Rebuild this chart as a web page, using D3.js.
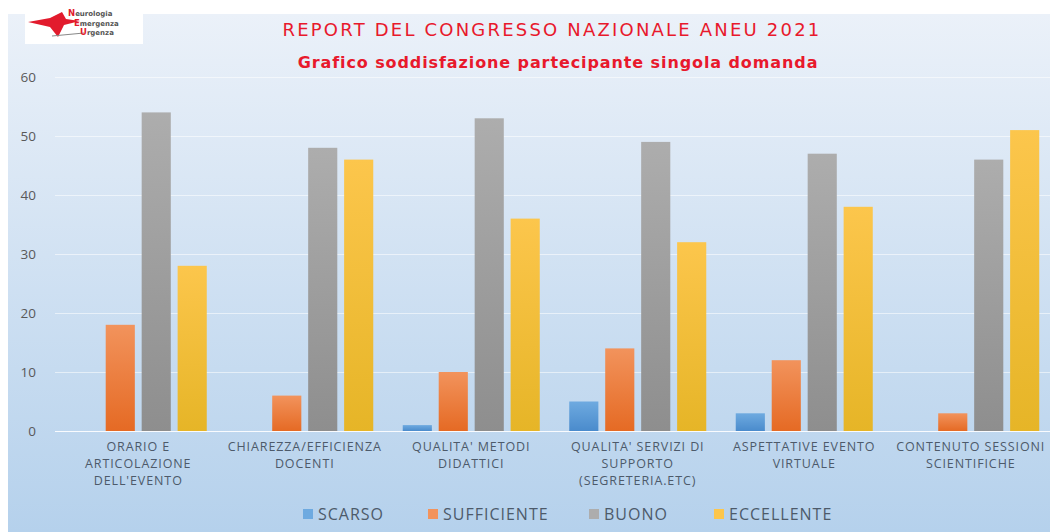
<!DOCTYPE html>
<html>
<head>
<meta charset="utf-8">
<script src="https://cdn.jsdelivr.net/npm/d3@7"></script>
<style>
  body { margin: 0; background: #fff; }
  svg { display: block; }
  text { font-family: 'Open Sans', sans-serif; }
</style>
</head>
<body>
<svg id="area" width="1050" height="532"></svg>
<script>
const categories = [
  ['ORARIO E', 'ARTICOLAZIONE', "DELL'EVENTO"],
  ['CHIAREZZA/EFFICIENZA', 'DOCENTI'],
  ["QUALITA' METODI", 'DIDATTICI'],
  ["QUALITA' SERVIZI DI", 'SUPPORTO', '(SEGRETERIA.ETC)'],
  ['ASPETTATIVE EVENTO', 'VIRTUALE'],
  ['CONTENUTO SESSIONI', 'SCIENTIFICHE'],
];
const seriesNames = ['SCARSO', 'SUFFICIENTE', 'BUONO', 'ECCELLENTE'];
const scarso = [0, 0, 1, 5, 3, 0];
const sufficiente = [18, 6, 10, 14, 12, 3];
const buono = [54, 48, 53, 49, 47, 46];
const eccellente = [28, 46, 36, 32, 38, 51];
const yTicks = [0, 10, 20, 30, 40, 50, 60];

const values = [scarso, sufficiente, buono, eccellente];
const colors = [
  ['#6eaae0', '#4a8bcc'],
  ['#f2935c', '#e56a24'],
  ['#adadad', '#8e8e8e'],
  ['#fcc64c', '#e6b527'],
];

const svg = d3.select('#area');
const defs = svg.append('defs');

const bg = defs.append('linearGradient')
  .attr('id', 'bg').attr('x1', 0).attr('y1', 0).attr('x2', 0).attr('y2', 1);
bg.append('stop').attr('offset', 0).attr('stop-color', '#ebf1f9');
bg.append('stop').attr('offset', 1).attr('stop-color', '#b5d1ec');

colors.forEach((c, i) => {
  const g = defs.append('linearGradient')
    .attr('id', `fill${i}`).attr('x1', 0).attr('y1', 0).attr('x2', 0).attr('y2', 1);
  g.append('stop').attr('offset', 0).attr('stop-color', c[0]);
  g.append('stop').attr('offset', 1).attr('stop-color', c[1]);
});

svg.append('rect')
  .attr('x', 8).attr('y', 14)
  .attr('width', 1042).attr('height', 518)
  .attr('fill', 'url(#bg)');

// logo
const logo = svg.append('g');
logo.append('rect')
  .attr('x', 25).attr('y', 14).attr('width', 118).attr('height', 30)
  .attr('fill', '#fff');
logo.append('path')
  .attr('d', 'M28,22 L50,18 L62,12 L66,19 L80,21 L64,25 L58,37 L50,27 Z')
  .attr('fill', '#e21b2d');
logo.append('line')
  .attr('x1', 52).attr('y1', 36).attr('x2', 84).attr('y2', 33)
  .attr('stroke', '#888').attr('stroke-width', 1);
const logoLines = [['N', 'eurologia', 16], ['E', 'mergenza', 26], ['U', 'rgenza', 35]];
logoLines.forEach(([a, b, yy], i) => {
  const t = logo.append('text')
    .attr('x', 68 + i * 6).attr('y', yy)
    .attr('font-size', 8.5).attr('font-weight', 'bold')
    .style('font-family', 'DejaVu Sans');
  t.append('tspan').attr('fill', '#e21b2d').text(a);
  t.append('tspan').attr('fill', '#555').attr('font-size', 7).text(b);
});

// titles
svg.append('text')
  .attr('x', 552).attr('y', 36)
  .attr('text-anchor', 'middle')
  .attr('fill', '#e8192c')
  .attr('font-size', 18)
  .style('font-family', 'DejaVu Sans')
  .style('letter-spacing', '2.2px')
  .text('REPORT DEL CONGRESSO NAZIONALE ANEU 2021');
svg.append('text')
  .attr('x', 558).attr('y', 68)
  .attr('text-anchor', 'middle')
  .attr('fill', '#e8192c')
  .attr('font-size', 16)
  .attr('font-weight', 'bold')
  .style('font-family', 'DejaVu Sans')
  .style('letter-spacing', '0.9px')
  .text('Grafico soddisfazione partecipante singola domanda');

const margin = { left: 55, right: 1054, top: 77, bottom: 431 };

const y = d3.scaleLinear()
  .domain([0, 60])
  .range([margin.bottom, margin.top]);

const x0 = d3.scaleBand()
  .domain(d3.range(categories.length))
  .range([margin.left, margin.right])
  .padding(0);

const x1 = d3.scaleBand()
  .domain(d3.range(seriesNames.length))
  .range([0, x0.bandwidth()])
  .paddingInner(0.19)
  .paddingOuter(0.41);

const yAxis = d3.axisLeft(y)
  .tickValues(yTicks)
  .tickSize(-(margin.right - margin.left))
  .tickPadding(19);

const gy = svg.append('g')
  .attr('transform', `translate(${margin.left},0)`)
  .call(yAxis);
gy.select('.domain').remove();
gy.selectAll('.tick line')
  .attr('stroke', '#ffffff')
  .attr('stroke-opacity', (d) => (d === 0 ? 0.9 : 0.55));
gy.selectAll('.tick text')
  .attr('fill', '#595959')
  .attr('font-size', 13.5)
  .style('font-family', 'Open Sans');

const groups = svg.selectAll('g.grp')
  .data(categories)
  .enter().append('g')
  .attr('class', 'grp')
  .attr('transform', (d, i) => `translate(${x0(i)},0)`);

groups.selectAll('rect')
  .data((d, i) => values.map((v, s) => ({ s, v: v[i] })))
  .enter().append('rect')
  .attr('x', (d) => x1(d.s))
  .attr('y', (d) => y(d.v))
  .attr('width', x1.bandwidth())
  .attr('height', (d) => y(0) - y(d.v))
  .attr('fill', (d) => `url(#fill${d.s})`);

// category labels
groups.each(function (lines) {
  const t = d3.select(this).append('text')
    .attr('x', x0.bandwidth() / 2)
    .attr('y', 451)
    .attr('text-anchor', 'middle')
    .attr('fill', '#4d5a6a')
    .attr('font-size', 12.5)
    .style('letter-spacing', '0.9px');
  lines.forEach((l, k) => {
    t.append('tspan')
      .attr('x', x0.bandwidth() / 2)
      .attr('dy', k === 0 ? 0 : 17)
      .text(l);
  });
});

// legend
const legendX = [303, 428, 589, 714];
const legend = svg.selectAll('g.leg')
  .data(seriesNames)
  .enter().append('g')
  .attr('class', 'leg')
  .attr('transform', (d, i) => `translate(${legendX[i]},514)`);
legend.append('rect')
  .attr('x', 0).attr('y', -5)
  .attr('width', 10).attr('height', 10)
  .attr('fill', (d, i) => colors[i][0]);
legend.append('text')
  .attr('x', 15).attr('y', 6)
  .attr('fill', '#4d5a6a')
  .attr('font-size', 16)
  .style('letter-spacing', '1px')
  .text((d) => d);
</script>
</body>
</html>
